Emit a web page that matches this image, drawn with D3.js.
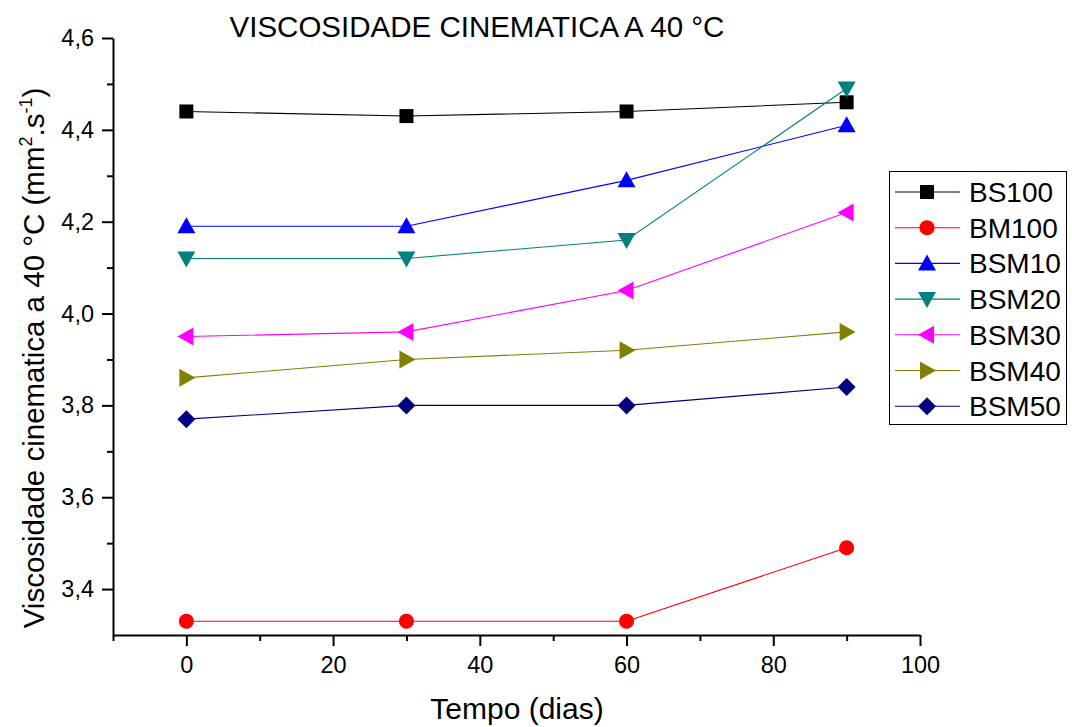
<!DOCTYPE html>
<html>
<head>
<meta charset="utf-8">
<script src="https://cdn.jsdelivr.net/npm/d3@7"></script>
<style>
    body { margin: 0; background: #fff; }
    svg { font-family: Arial, "Liberation Sans", sans-serif; }
</style>
</head>
<body>
<svg id="chart" width="1072" height="727"></svg>
<script>
const days = [0, 30, 60, 90];
const seriesNames = ['BS100', 'BM100', 'BSM10', 'BSM20', 'BSM30', 'BSM40', 'BSM50'];
const bs100 = [4.44, 4.43, 4.44, 4.46];
const bm100 = [3.33, 3.33, 3.33, 3.49];
const bsm10 = [4.19, 4.19, 4.29, 4.41];
const bsm20 = [4.12, 4.12, 4.16, 4.49];
const bsm30 = [3.95, 3.96, 4.05, 4.22];
const bsm40 = [3.86, 3.90, 3.92, 3.96];
const bsm50 = [3.77, 3.80, 3.80, 3.84];
const xTicks = [0, 20, 40, 60, 80, 100];
const yTicks = [3.4, 3.6, 3.8, 4.0, 4.2, 4.4, 4.6];

const seriesValues = [bs100, bm100, bsm10, bsm20, bsm30, bsm40, bsm50];
const colors = ['#000000', '#ff0000', '#0000ff', '#008080', '#ff00ff', '#808000', '#000080'];
const shapes = ['square', 'circle', 'up', 'down', 'left', 'right', 'diamond'];

const svg = d3.select('#chart');
const x = d3.scaleLinear().domain([-10, 100]).range([113, 920]);
const y = d3.scaleLinear().domain([3.3, 4.6]).range([635, 38]);
const fmt = d => d3.format('.1f')(d).replace('.', ',');

function markerPath(shape) {
    switch (shape) {
        case 'square': return 'M-7,-7H7V7H-7Z';
        case 'circle': return d3.symbol(d3.symbolCircle, 180)();
        case 'up': return 'M0,-9L9,7H-9Z';
        case 'down': return 'M0,9L9,-7H-9Z';
        case 'left': return 'M-9,0L7,-9V9Z';
        case 'right': return 'M9,0L-7,-9V9Z';
        case 'diamond': return 'M0,-9L9,0L0,9L-9,0Z';
    }
}

// axes
const xAxis = svg.append('g').attr('transform', `translate(0,${y(3.3)})`)
    .call(d3.axisBottom(x).tickValues(xTicks).tickFormat(d3.format('d')).tickSize(11).tickSizeOuter(0));
svg.append('g').attr('transform', `translate(0,${y(3.3)})`)
    .call(d3.axisBottom(x).tickValues([-10, 10, 30, 50, 70, 90]).tickFormat('').tickSize(6).tickSizeOuter(0))
    .select('.domain').remove();
const yAxis = svg.append('g').attr('transform', `translate(${x(-10)},0)`)
    .call(d3.axisLeft(y).tickValues(yTicks).tickFormat(fmt).tickSize(11).tickSizeOuter(0));
svg.append('g').attr('transform', `translate(${x(-10)},0)`)
    .call(d3.axisLeft(y).tickValues([3.5, 3.7, 3.9, 4.1, 4.3, 4.5]).tickFormat('').tickSize(6).tickSizeOuter(0))
    .select('.domain').remove();

svg.selectAll('.domain').attr('stroke-width', 2);
svg.selectAll('.tick line').attr('stroke-width', 2);
xAxis.selectAll('text').attr('font-size', 23.5).attr('font-family', 'Arial, "Liberation Sans", sans-serif')
    .attr('y', 38).attr('dy', 0);
yAxis.selectAll('text').attr('font-size', 23.5).attr('font-family', 'Arial, "Liberation Sans", sans-serif')
    .attr('x', -19);

// series
const line = d3.line().x((d, i) => x(days[i])).y(d => y(d));
seriesValues.forEach((vals, s) => {
    svg.append('path').datum(vals)
        .attr('d', line).attr('fill', 'none')
        .attr('stroke', colors[s]).attr('stroke-width', 1.1);
    svg.append('g').selectAll('path').data(vals).join('path')
        .attr('d', markerPath(shapes[s]))
        .attr('transform', (d, i) => `translate(${x(days[i])},${y(d)})`)
        .attr('fill', colors[s]);
});

// title and labels
svg.append('text').attr('x', 477).attr('y', 37).attr('text-anchor', 'middle')
    .attr('font-size', 29.5).text('VISCOSIDADE CINEMATICA A 40 °C');
svg.append('text').attr('x', 517).attr('y', 719).attr('text-anchor', 'middle')
    .attr('font-size', 30).text('Tempo (dias)');

const yl = svg.append('text').attr('transform', 'translate(44,358) rotate(-90)')
    .attr('text-anchor', 'middle').attr('font-size', 29.5);
yl.append('tspan').text('Viscosidade cinematica a 40 °C (mm');
yl.append('tspan').attr('font-size', 18).attr('dy', -12).text('2');
yl.append('tspan').attr('dy', 12).text('.s');
yl.append('tspan').attr('font-size', 18).attr('dy', -12).text('-1');
yl.append('tspan').attr('dy', 12).text(')');

// legend
const legend = svg.append('g');
legend.append('rect').attr('x', 889.5).attr('y', 171.5).attr('width', 177).attr('height', 253)
    .attr('fill', '#fff').attr('stroke', '#000').attr('stroke-width', 1);
seriesNames.forEach((name, s) => {
    const ly = 192 + s * 35.7;
    legend.append('line').attr('x1', 895).attr('x2', 960).attr('y1', ly).attr('y2', ly)
        .attr('stroke', colors[s]).attr('stroke-width', 1.1);
    legend.append('path').attr('d', markerPath(shapes[s]))
        .attr('transform', `translate(927,${ly})`).attr('fill', colors[s]);
    legend.append('text').attr('x', 969).attr('y', ly + 10).attr('font-size', 28).text(name);
});
</script>
</body>
</html>
